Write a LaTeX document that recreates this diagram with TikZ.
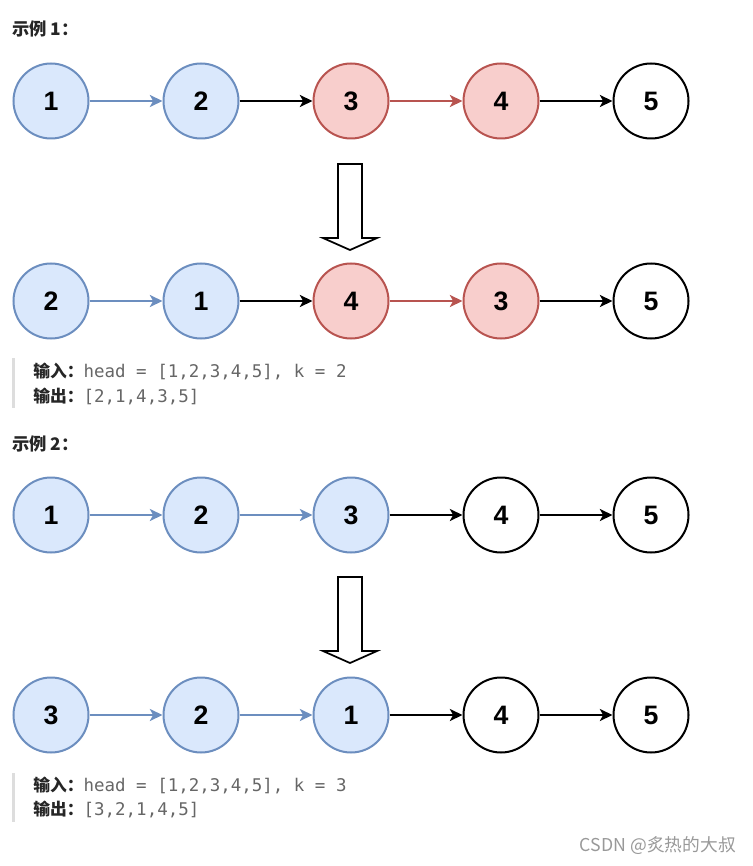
\documentclass[tikz,border=0pt]{standalone}
\usepackage{fontspec}
\setmainfont{Liberation Sans}
\setmonofont{DejaVu Sans Mono}
\newfontfamily\cjk{Noto Sans CJK SC}
\usepackage{tikz}
\usetikzlibrary{arrows.meta,positioning}
\definecolor{blueFill}{HTML}{DAE8FC}
\definecolor{blueLine}{HTML}{6C8EBF}
\definecolor{redFill}{HTML}{F8CECC}
\definecolor{redLine}{HTML}{B85450}
\definecolor{codeGray}{HTML}{666666}
\definecolor{barGray}{HTML}{DDDDDD}
\tikzset{
  listnode/.style={draw, circle, minimum size=56.25pt, inner sep=0pt, line width=1.5pt,
    font=\bfseries\fontsize{20}{24}\selectfont},
  bluenode/.style={listnode, draw=blueLine, fill=blueFill},
  rednode/.style={listnode, draw=redLine, fill=redFill},
  plainnode/.style={listnode, draw=black, fill=white},
  link/.style={-{Stealth[length=9.5pt, width=9pt, inset=2.5pt]}, line width=1.5pt},
  bluelink/.style={link, draw=blueLine},
  redlink/.style={link, draw=redLine},
  titletext/.style={anchor=west, inner sep=0pt, font=\cjk\bfseries\fontsize{13}{15}\selectfont, text=black!85},
  codetext/.style={anchor=west, inner sep=0pt, font=\fontsize{13.1}{15}\selectfont},
  bigarrow/.style={draw=black, line width=1.3pt, fill=white, line join=miter}
}
\newcommand{\lbl}[1]{{\cjk\bfseries\fontsize{12.6}{15}\selectfont\color{black!85}#1}}

\begin{document}
\begin{tikzpicture}[x=0.75pt, y=-0.75pt, node distance=54.75pt]
  \useasboundingbox (0,0) rectangle (752,866);

  % example 1
  \node[titletext] (title1) at (12,29) {示例 1：};

  \node[bluenode] (a1) at (51,101) {1};
  \node[bluenode, right=of a1] (a2) {2};
  \node[rednode, right=of a2] (a3) {3};
  \node[rednode, right=of a3] (a4) {4};
  \node[plainnode, right=of a4] (a5) {5};
  \draw[bluelink] (a1) -- (a2);
  \draw[link] (a2) -- (a3);
  \draw[redlink] (a3) -- (a4);
  \draw[link] (a4) -- (a5);

  \draw[bigarrow] (338,164) -- (362,164) -- (362,238) -- (377,238) -- (350,250)
    -- (323,238) -- (338,238) -- cycle;

  \node[bluenode] (b1) at (51,301) {2};
  \node[bluenode, right=of b1] (b2) {1};
  \node[rednode, right=of b2] (b3) {4};
  \node[rednode, right=of b3] (b4) {3};
  \node[plainnode, right=of b4] (b5) {5};
  \draw[bluelink] (b1) -- (b2);
  \draw[link] (b2) -- (b3);
  \draw[redlink] (b3) -- (b4);
  \draw[link] (b4) -- (b5);

  \fill[barGray] (12,358) rectangle (15,408);
  \node[codetext] (in1) at (33,371) {\lbl{输入：}\textcolor{codeGray}{\ttfamily head = [1,2,3,4,5], k = 2}};
  \node[codetext] (out1) at (33,396) {\lbl{输出：}\textcolor{codeGray}{\ttfamily [2,1,4,3,5]}};

  % example 2
  \node[titletext] (title2) at (12,444) {示例 2：};

  \node[bluenode] (c1) at (51,515) {1};
  \node[bluenode, right=of c1] (c2) {2};
  \node[bluenode, right=of c2] (c3) {3};
  \node[plainnode, right=of c3] (c4) {4};
  \node[plainnode, right=of c4] (c5) {5};
  \draw[bluelink] (c1) -- (c2);
  \draw[bluelink] (c2) -- (c3);
  \draw[link] (c3) -- (c4);
  \draw[link] (c4) -- (c5);

  \draw[bigarrow] (338,577) -- (362,577) -- (362,651) -- (377,651) -- (350,663)
    -- (323,651) -- (338,651) -- cycle;

  \node[bluenode] (d1) at (51,715) {3};
  \node[bluenode, right=of d1] (d2) {2};
  \node[bluenode, right=of d2] (d3) {1};
  \node[plainnode, right=of d3] (d4) {4};
  \node[plainnode, right=of d4] (d5) {5};
  \draw[bluelink] (d1) -- (d2);
  \draw[bluelink] (d2) -- (d3);
  \draw[link] (d3) -- (d4);
  \draw[link] (d4) -- (d5);

  \fill[barGray] (12,773) rectangle (15,822);
  \node[codetext] (in2) at (33,785) {\lbl{输入：}\textcolor{codeGray}{\ttfamily head = [1,2,3,4,5], k = 3}};
  \node[codetext] (out2) at (33,809) {\lbl{输出：}\textcolor{codeGray}{\ttfamily [3,2,1,4,5]}};

  \node[anchor=east, inner sep=0pt, font=\cjk\fontsize{13.3}{15}\selectfont, text=black!40] (mark) at (736,846) {CSDN @炙热的大叔};
\end{tikzpicture}
\end{document}
